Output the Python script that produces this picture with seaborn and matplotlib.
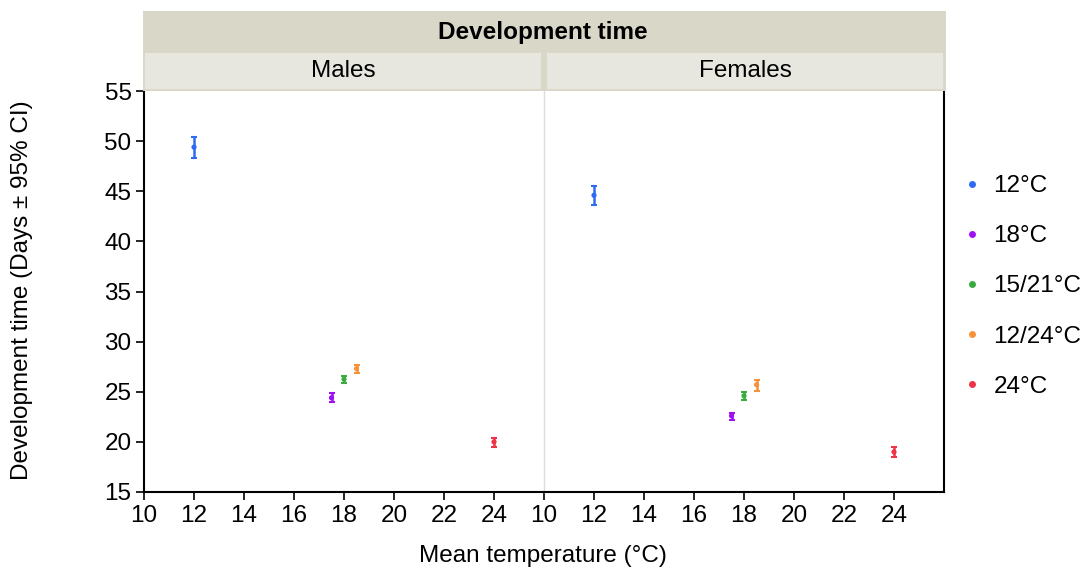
import numpy as np
import pandas as pd
import matplotlib
matplotlib.use("Agg")
import matplotlib.pyplot as plt
import seaborn as sns
from matplotlib.patches import Rectangle
from matplotlib.lines import Line2D

# data
treatments = ["12°C", "18°C", "15/21°C", "12/24°C", "24°C"]
mean_temp = [12, 17.5, 18, 18.5, 24]
males_days = [49.4, 24.4, 26.25, 27.3, 20.0]
males_lo = [48.3, 24.0, 25.9, 26.9, 19.5]
males_hi = [50.4, 24.9, 26.6, 27.7, 20.4]
females_days = [44.6, 22.6, 24.6, 25.7, 19.0]
females_lo = [43.6, 22.2, 24.2, 25.1, 18.5]
females_hi = [45.5, 22.9, 25.0, 26.2, 19.5]
panels = ["Males", "Females"]
colors = ["#2e6bf2", "#9d12f2", "#3aab3e", "#f7923a", "#ee3347"]

df = pd.concat([
    pd.DataFrame({"sex": "Males", "treatment": treatments, "temp": mean_temp,
                  "days": males_days, "lo": males_lo, "hi": males_hi}),
    pd.DataFrame({"sex": "Females", "treatment": treatments, "temp": mean_temp,
                  "days": females_days, "lo": females_lo, "hi": females_hi}),
])

sns.set_style("white")
plt.rcParams["font.family"] = ["Liberation Sans", "DejaVu Sans"]
FS = 17.5
plt.rcParams["font.size"] = FS
for k in ["text.color", "axes.labelcolor", "xtick.color", "ytick.color",
          "xtick.labelcolor", "ytick.labelcolor"]:
    plt.rcParams[k] = "black"

W, H = 1084, 572
fig = plt.figure(figsize=(W / 100, H / 100), dpi=100)

def fx(px):
    return px / W

def fy(py):
    return 1 - py / H

pal = dict(zip(treatments, colors))
for i, sex in enumerate(panels):
    left = 144 + i * 400
    ax = fig.add_axes([fx(left), fy(492), 400 / W, (492 - 91) / H])
    sub = df[df["sex"] == sex]
    for _, r in sub.iterrows():
        ax.errorbar(r["temp"], r["days"], yerr=[[r["days"] - r["lo"]], [r["hi"] - r["days"]]],
                    fmt="none", ecolor=pal[r["treatment"]], elinewidth=1.8,
                    capsize=2.5, capthick=1.5)
    sns.scatterplot(data=sub, x="temp", y="days", hue="treatment", palette=pal,
                    s=14, edgecolor="none", legend=False, ax=ax, zorder=3)
    ax.set_xlim(10, 26)
    ax.set_ylim(15, 55)
    ax.set_xticks(range(10, 25, 2))
    ax.set_yticks(range(15, 56, 5))
    ax.set_xlabel("")
    ax.set_ylabel("")
    ax.tick_params(axis="both", direction="out", length=6, width=1.2, labelsize=FS,
                   pad=3, color="black", labelcolor="black")
    ax.tick_params(axis="x", bottom=True)
    ax.spines["top"].set_visible(False)
    ax.spines["bottom"].set_color("black")
    ax.spines["bottom"].set_linewidth(1.5)
    if i == 0:
        ax.spines["right"].set_visible(False)
        ax.spines["left"].set_color("black")
        ax.spines["left"].set_linewidth(1.5)
        ax.tick_params(axis="y", left=True)
    else:
        ax.spines["left"].set_color("#dddddd")
        ax.spines["left"].set_linewidth(1)
        ax.spines["right"].set_color("black")
        ax.spines["right"].set_linewidth(1.5)
        ax.tick_params(axis="y", left=False, labelleft=False)

# strip headers
fig.patches.append(Rectangle((fx(143), fy(91)), (946 - 143) / W, (91 - 11) / H,
                             transform=fig.transFigure, facecolor="#d9d7c8",
                             edgecolor="none", zorder=0))
fig.text(fx(543), fy(32), "Development time", ha="center", va="center",
         fontsize=FS, fontweight="bold")
for i, sex in enumerate(panels):
    left = 145 + i * 402
    fig.patches.append(Rectangle((fx(left), fy(89)), 396 / W, 36 / H,
                                 transform=fig.transFigure, facecolor="#e7e7df",
                                 edgecolor="none", zorder=1))
    fig.text(fx(343 + i * 402), fy(71), sex, ha="center", va="center", fontsize=FS)

fig.text(fx(543), fy(556), "Mean temperature (°C)", ha="center", va="center", fontsize=FS)
fig.text(fx(22), fy(290), "Development time (Days ± 95% CI)", ha="center", va="center",
         rotation=90, fontsize=FS)

handles = [Line2D([], [], marker="o", linestyle="none", markersize=5,
                  markerfacecolor=c, markeredgecolor="none") for c in colors]
fig.legend(handles, treatments, loc="upper left", bbox_to_anchor=(fx(962), fy(175)),
           frameon=False, fontsize=FS, labelspacing=1.16, handlelength=0.8,
           handletextpad=0.5, borderaxespad=0, borderpad=0)

fig.savefig("out.png", dpi=100)
